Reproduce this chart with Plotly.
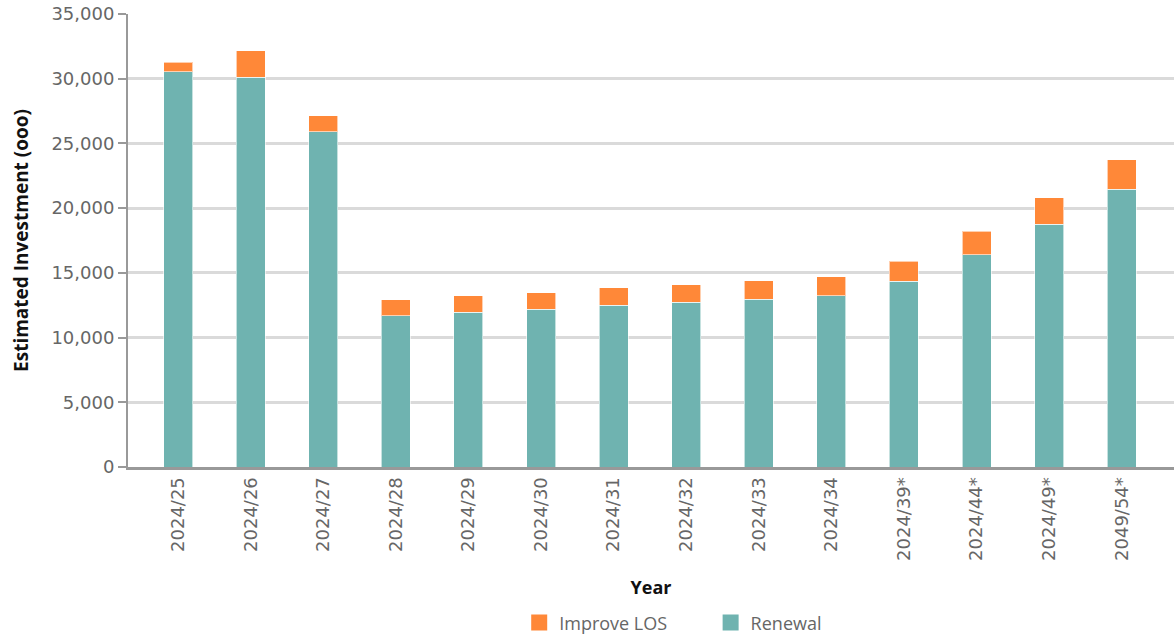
import plotly.graph_objects as go

RENEWAL_COLOR = "#6fb3b0"
IMPROVE_COLOR = "#ff8838"

years = ["2024/25", "2024/26", "2024/27", "2024/28", "2024/29", "2024/30", "2024/31",
         "2024/32", "2024/33", "2024/34", "2024/39*", "2024/44*", "2024/49*", "2049/54*"]
renewal = [30550, 30115, 25910, 11670, 11955, 12185, 12495,
           12725, 12960, 13215, 14350, 16385, 18755, 21460]
improve_los = [725, 2035, 1215, 1235, 1260, 1285, 1365,
               1365, 1415, 1470, 1545, 1830, 2035, 2290]

fig = go.Figure()
fig.add_trace(go.Bar(
    x=years, y=renewal, name="Renewal", showlegend=False,
    marker=dict(color=RENEWAL_COLOR, line=dict(color="rgba(255,255,255,0.6)", width=1)),
))
fig.add_trace(go.Bar(
    x=years, y=improve_los, name="Improve LOS", showlegend=False,
    marker=dict(color=IMPROVE_COLOR, line=dict(color="rgba(255,255,255,0.6)", width=1)),
))
# legend-only entries so the swatches are big squares like the original,
# one legend each so the gap between them can be set
for name, color, lg in [("Improve LOS", IMPROVE_COLOR, "legend"), ("Renewal", RENEWAL_COLOR, "legend2")]:
    fig.add_trace(go.Scatter(
        x=[None], y=[None], mode="markers", name=name, legend=lg,
        marker=dict(symbol="square", size=18, color=color),
    ))

legend_font = dict(family="Open Sans, sans-serif", size=18, color="#666666")
fig.update_layout(
    barmode="stack", bargap=0.6,
    width=1174, height=637,
    margin=dict(l=128, r=0, t=14, b=170, autoexpand=False),
    plot_bgcolor="white", paper_bgcolor="white",
    font=dict(family="DejaVu Sans, sans-serif", color="#666666", size=16),
    legend=dict(orientation="h", x=0.374, xanchor="left", y=-0.344, yanchor="middle",
                font=legend_font, itemwidth=30),
    legend2=dict(orientation="h", x=0.557, xanchor="left", y=-0.344, yanchor="middle",
                 font=legend_font, itemwidth=30),
    xaxis=dict(
        type="category", range=[-0.69, 13.72], automargin=False,
        tickangle=-90, ticks="", showline=True, linecolor="#999999", linewidth=3,
        tickfont=dict(family="DejaVu Sans, sans-serif", size=18, color="#666666"),
        title=dict(text="<b>Year</b>", font=dict(family="Open Sans, sans-serif", size=18, color="#111111"),
                   standoff=22),
    ),
    yaxis=dict(
        range=[0, 35000], dtick=5000, tickformat=",", automargin=False,
        showgrid=True, gridcolor="#dadada", gridwidth=3,
        showline=True, linecolor="#999999", linewidth=2,
        ticks="outside", ticklen=8, tickcolor="#999999", tickwidth=2,
        zeroline=False,
        tickfont=dict(family="DejaVu Sans, sans-serif", size=18, color="#666666"),
        title=dict(text="<b>Estimated Investment (ooo)</b>",
                   font=dict(family="Open Sans, sans-serif", size=19, color="#111111"),
                   standoff=18),
    ),
)

# drop the page's default body margin so the chart fills the window exactly
fig.write_html("out.html", config={"displayModeBar": False},
               post_script="document.body.style.margin='0';")
